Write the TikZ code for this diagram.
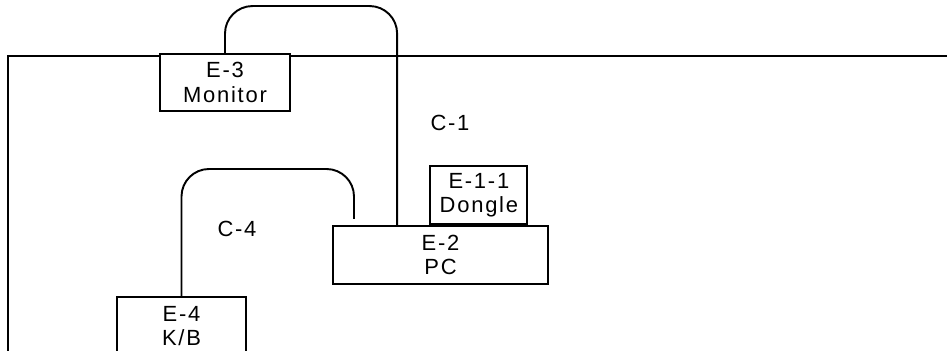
\documentclass[tikz,border=0pt]{standalone}
\usepackage{fontspec}
\setmainfont{Liberation Sans}[LetterSpace=8]
\usepackage{tikz}
\usetikzlibrary{positioning,calc}
\tikzset{
  unitbox/.style={draw,line width=1.1pt,fill=white,align=center,inner sep=0pt},
  cable/.style={line width=1.1pt,rounded corners=0.55cm},
  tag/.style={inner sep=0pt}
}

\begin{document}
\begin{tikzpicture}[x=0.02cm,y=-0.02cm,font=\fontsize{12.5}{13.9}\selectfont]
  \useasboundingbox (0,0) rectangle (947,351);
  \clip (0,0) rectangle (947,351);
  % room outline
  \draw[line width=1.1pt] (8,360) -- (8,56) -- (960,56);
  % equipment
  \node[unitbox,minimum width=130*0.02cm,minimum height=57*0.02cm] (mon) at (225,82.5) {E-3\\Monitor};
  \node[unitbox,minimum width=215*0.02cm,minimum height=58*0.02cm] (pc) at (440.5,255) {E-2\\PC};
  \node[unitbox,minimum width=97*0.02cm,minimum height=58*0.02cm,anchor=south] (dongle) at ($(pc.north west)!0.677!(pc.north east)$) {E-1-1\\Dongle};
  \node[unitbox,minimum width=129*0.02cm,minimum height=58*0.02cm,anchor=north] (kb) at (181.5,296) {E-4\\K/B};
  % cables
  \coordinate (c1end) at ($(pc.north west)!0.3!(pc.north east)$);
  \coordinate (c4end) at (354,219);
  \draw[cable] (mon.north) -- ++(0,-47) -| (c1end);
  \draw[cable] (c4end) -- ++(0,-50) -| (kb.north);
  \node[tag] (c1) at (450,123) {C-1};
  \node[tag] (c4) at (237,229) {C-4};
\end{tikzpicture}
\end{document}
